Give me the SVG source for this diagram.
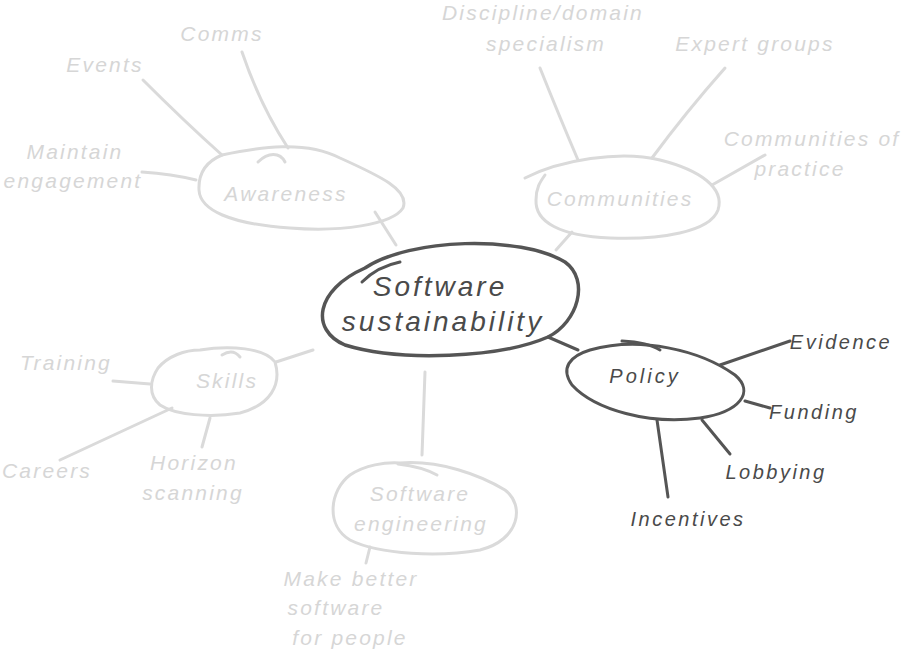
<svg xmlns="http://www.w3.org/2000/svg" width="915" height="657" viewBox="0 0 915 657">
<style>
text{font-family:"Liberation Sans","DejaVu Sans",sans-serif;font-style:italic;text-anchor:middle}
.lt{fill:#d6d6d6;font-size:21px;letter-spacing:2.2px}
.dk{fill:#4a4a4a;font-size:20px;letter-spacing:2.5px}
.big{font-size:28px;letter-spacing:3px}
.lg{stroke:#dadada;stroke-width:3;fill:none;stroke-linecap:round}
.dg{stroke:#555;stroke-width:3;fill:none;stroke-linecap:round}
.ln{stroke:#dadada;stroke-width:3;fill:none;stroke-linecap:round}
.dl{stroke:#555;stroke-width:3;fill:none;stroke-linecap:round}
</style>
<rect width="915" height="657" fill="#fff"/>
<g id="connectors">
<path class="ln" d="M375,212 L396,245"/>
<path class="ln" d="M143,80 Q185,122 222,155"/>
<path class="ln" d="M242,52 Q260,105 288,148"/>
<path class="ln" d="M142,172 Q172,174 196,180"/>
<path class="ln" d="M572,232 L556,250"/>
<path class="ln" d="M540,68 Q560,118 578,160"/>
<path class="ln" d="M725,68 Q686,112 652,158"/>
<path class="ln" d="M765,155 L712,185"/>
<path class="ln" d="M276,362 L313,350"/>
<path class="ln" d="M113,381 L150,384"/>
<path class="ln" d="M60,460 L172,408"/>
<path class="ln" d="M210,418 L202,447"/>
<path class="ln" d="M425,372 L422,455"/>
<path class="ln" d="M370,547 L366,563"/>
<path class="dl" d="M548,337 L578,350"/>
<path class="dl" d="M720,365 L790,341"/>
<path class="dl" d="M745,401 L770,408"/>
<path class="dl" d="M702,420 L730,454"/>
<path class="dl" d="M657,420 L668,497"/>
</g>
<g id="central">
<path class="dg" style="stroke-width:3.5" d="M365,268 C410,238 520,235 565,262 C590,280 578,322 548,337 C500,358 400,362 345,345 C310,330 315,290 365,268 Z"/>
<path class="dg" d="M362,282 C372,272 385,265 400,262"/>
<text class="dk big" x="440" y="296">Software</text>
<text class="dk big" x="443" y="331">sustainability</text>
</g>
<g id="policy">
<path class="dg" d="M590,350 C640,336 700,350 735,375 C755,392 740,412 700,418 C650,425 595,410 572,385 C560,368 570,356 590,350 Z"/>
<path class="dg" d="M622,341 C640,342 652,345 660,350"/>
<text class="dk" style="letter-spacing:3px" x="645" y="383">Policy</text>
</g>
<g id="evidence"><text class="dk" x="841" y="349">Evidence</text></g>
<g id="funding"><text class="dk" x="814" y="419">Funding</text></g>
<g id="lobbying"><text class="dk" x="776" y="479">Lobbying</text></g>
<g id="incentives"><text class="dk" x="688" y="526">Incentives</text></g>
<g id="awareness">
<path class="lg" d="M222,155 C260,147 305,140 340,158 C380,176 410,190 403,208 C392,225 340,232 290,228 C230,224 200,210 199,190 C198,170 210,160 222,155 Z"/>
<path class="lg" d="M258,162 C268,152 280,152 285,162"/>
<text class="lt" x="286" y="201">Awareness</text>
</g>
<g id="events"><text class="lt" x="105" y="72">Events</text></g>
<g id="comms"><text class="lt" x="222" y="41">Comms</text></g>
<g id="maintain"><text class="lt" x="75" y="159">Maintain</text><text class="lt" x="73" y="188">engagement</text></g>
<g id="communities">
<path class="lg" d="M525,178 C560,160 620,150 660,160 C700,170 725,188 718,210 C710,232 660,240 610,238 C560,236 535,222 536,200 C536,188 540,182 545,175"/>
<text class="lt" x="620" y="206">Communities</text>
</g>
<g id="discipline"><text class="lt" x="543" y="20">Discipline/domain</text><text class="lt" x="546" y="51">specialism</text></g>
<g id="expert"><text class="lt" x="755" y="51">Expert groups</text></g>
<g id="cop"><text class="lt" x="812" y="146">Communities of</text><text class="lt" x="800" y="176">practice</text></g>
<g id="skills">
<path class="lg" d="M200,350 C230,345 265,348 275,362 C282,385 270,405 240,413 C210,418 175,415 160,405 C148,395 150,380 158,368 C168,356 185,350 200,350 Z"/>
<path class="lg" d="M222,355 C230,350 236,352 240,357"/>
<text class="lt" x="227" y="388">Skills</text>
</g>
<g id="training"><text class="lt" x="66" y="370">Training</text></g>
<g id="careers"><text class="lt" x="47" y="478">Careers</text></g>
<g id="horizon"><text class="lt" x="194" y="470">Horizon</text><text class="lt" x="193" y="500">scanning</text></g>
<g id="softeng">
<path class="lg" d="M400,463 C440,460 480,475 505,490 C525,505 520,540 480,550 C440,557 380,555 350,540 C325,525 330,490 350,475 C365,465 385,462 400,463 Z"/>
<path class="lg" d="M398,464 C415,466 428,470 437,475"/>
<text class="lt" x="420" y="501">Software</text>
<text class="lt" x="421" y="531">engineering</text>
</g>
<g id="makebetter"><text class="lt" x="351" y="586">Make better</text><text class="lt" x="336" y="615">software</text><text class="lt" x="350" y="645">for people</text></g>
</svg>
